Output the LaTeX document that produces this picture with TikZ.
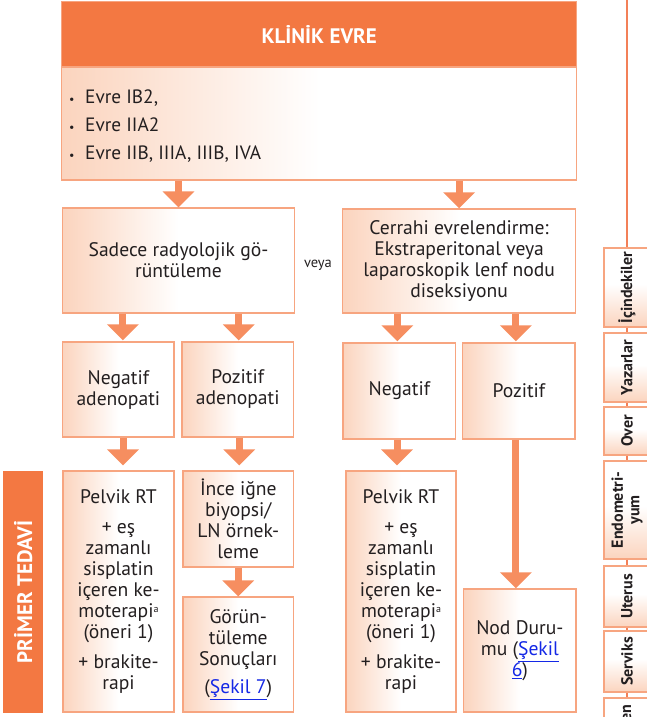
\documentclass[tikz,border=0pt]{standalone}
\usepackage{fontspec}
\setmainfont{PT Sans}
\usetikzlibrary{arrows.meta}

\definecolor{hdrorange}{RGB}{243,120,66}
\definecolor{arroworange}{RGB}{246,142,96}
\definecolor{edgeorange}{RGB}{247,165,128}
\definecolor{peach}{RGB}{251,212,190}
\definecolor{tabline}{RGB}{243,128,88}
\definecolor{linkblue}{RGB}{20,40,230}
\definecolor{ink}{RGB}{35,31,32}

% soft peach fade from the left edge of a box into white
\pgfdeclarehorizontalshading{boxfade}{100bp}{color(0bp)=(peach); color(25bp)=(peach); color(50bp)=(white); color(100bp)=(white)}
% same fade, rising from the bottom of the side tabs
\pgfdeclareverticalshading{tabfade}{100bp}{color(0bp)=(peach); color(25bp)=(peach); color(52bp)=(white); color(100bp)=(white)}

\newcommand{\lnk}[1]{\textcolor{linkblue}{\underline{#1}}}
% small footnote mark kept low so it stays clear of the line above
\newcommand{\fnmark}[1]{\raisebox{5pt}[9pt][0pt]{\fontsize{10}{10}\selectfont #1}}

\tikzset{
  box/.style={draw=edgeorange, line width=1.3pt, shading=boxfade, align=center,
    inner sep=2pt, text=ink, font=\fontsize{19.6}{21}\selectfont},
  flowarrow/.style={draw=arroworange, line width=7pt,
    -{Triangle[width=31pt,length=16pt]}},
  sidetab/.style={draw=edgeorange, line width=1.2pt, shading=tabfade, rotate=90,
    align=center, inner sep=1pt, text=ink, minimum height=46pt,
    font=\fontsize{16}{16.5}\selectfont\bfseries},
  tabconn/.style={draw=tabline, line width=1.3pt},
}

\begin{document}
\begin{tikzpicture}[x=1pt, y=-1pt]
\useasboundingbox (0,0) rectangle (647,717);
\clip (0,0) rectangle (647,717);

% ---- clinical stage header and list ----
\node[fill=hdrorange, draw=edgeorange, line width=1pt, minimum width=515pt,
  minimum height=65pt, text=white, font=\fontsize{21}{23}\selectfont\bfseries]
  (hdr) at (319.2,34.5) {KLİNİK EVRE};
\node[box, minimum width=515pt, minimum height=113pt] (lst) at (319.2,123.5) {};
\node[anchor=west, align=left, inner sep=0pt, text=ink,
  font=\fontsize{19.3}{28}\selectfont] (lsttext) at (67,126)
  {\makebox[18pt][l]{\hspace{2pt}\fontsize{12}{12}\selectfont •}Evre IB2,\\
   \makebox[18pt][l]{\hspace{2pt}\fontsize{12}{12}\selectfont •}Evre IIA2\\
   \makebox[18pt][l]{\hspace{2pt}\fontsize{12}{12}\selectfont •}Evre IIB, IIIA, IIIB, IVA};

% ---- staging method ----
\node[box, minimum width=231.6pt, minimum height=105pt] (sad) at (178.5,260.5)
  {Sadece radyolojik gö-\\rüntüleme};
\node[box, minimum width=232.8pt, minimum height=104pt] (cer) at (459.1,261)
  {Cerrahi evrelendirme:\\Ekstraperitonal veya\\laparoskopik lenf nodu\\diseksiyonu};
\node[text=ink, font=\fontsize{14.5}{16}\selectfont] (veya) at (318,265) {veya};

% ---- nodal findings ----
\node[box, minimum width=111.3pt, minimum height=95pt] (nad) at (118.35,389.5)
  {Negatif\\adenopati};
\node[box, minimum width=111.5pt, minimum height=95pt] (pad) at (237.75,389.5)
  {Pozitif\\adenopati};
\node[box, minimum width=112.7pt, minimum height=96pt] (neg) at (399.35,391)
  {Negatif};
\node[box, minimum width=112.3pt, minimum height=96pt] (poz) at (518.85,391)
  {Pozitif};

% ---- primary treatment ----
\node[box, minimum width=111pt, minimum height=241pt] (pel1) at (118.5,591.5)
  {Pelvik RT\\[9pt]+ eş\\zamanlı\\sisplatin\\içeren ke-\\moterapi\fnmark{a}\\(öneri 1)\\[9pt]+ brakite-\\rapi};
\node[box, minimum width=110.5pt, minimum height=96pt] (ince) at (238.25,519)
  {İnce iğne\\biyopsi/\\LN örnek-\\leme};
\node[box, minimum width=110.5pt, minimum height=115pt] (gor) at (238.25,654.5)
  {Görün-\\tüleme\\Sonuçları\\[7pt](\lnk{Şekil 7})};
\node[box, minimum width=110pt, minimum height=241pt] (pel2) at (401,591.5)
  {Pelvik RT\\[9pt]+ eş\\zamanlı\\sisplatin\\içeren ke-\\moterapi\fnmark{a}\\(öneri 1)\\[9pt]+ brakite-\\rapi};
\node[box, minimum width=112.3pt, minimum height=123pt] (nod) at (519.85,650.5)
  {Nod Duru-\\mu (\lnk{Şekil}\\\lnk{6})};

% side label
\node[fill=hdrorange, rotate=90, minimum width=242pt, minimum height=40pt,
  inner sep=0pt, text=white, font=\fontsize{21}{23}\selectfont\bfseries]
  (primer) at (23.3,592) {PRİMER TEDAVİ};

% ---- connectors ----
\draw[flowarrow] (lst.south -| sad) -- (sad.north);
\draw[flowarrow] (lst.south -| cer) -- (cer.north);
\draw[flowarrow] ([xshift=4.5pt]nad.north |- sad.south) -- ([xshift=4.5pt,yshift=1pt]nad.north);
\draw[flowarrow] ([xshift=1pt]pad.north |- sad.south) -- ([xshift=1pt,yshift=1pt]pad.north);
\draw[flowarrow] ([xshift=-2pt]neg.north |- cer.south) -- ([xshift=-2pt,yshift=1pt]neg.north);
\draw[flowarrow] ([xshift=-3pt]poz.north |- cer.south) -- ([xshift=-3pt,yshift=1pt]poz.north);
\draw[flowarrow, shorten >=5pt] ([xshift=4.5pt]pel1.north |- nad.south) -- ([xshift=4.5pt]pel1.north);
\draw[flowarrow, shorten >=5pt] ([xshift=1pt]ince.north |- pad.south) -- ([xshift=1pt]ince.north);
\draw[flowarrow, shorten >=5pt] ([xshift=-4pt]pel2.north |- neg.south) -- ([xshift=-4pt]pel2.north);
\draw[flowarrow] (ince.south) -- (gor.north);
\draw[flowarrow] ([xshift=-4pt]nod.north |- poz.south) -- ([xshift=-4pt]nod.north);

% ---- side tabs ----
\node[sidetab, minimum width=79pt] (t1) at (627,287.5) {İçindekiler};
\node[sidetab, minimum width=69pt] (t2) at (627,367.5) {Yazarlar};
\node[sidetab, minimum width=48pt] (t3) at (627,431) {Over};
\node[sidetab, minimum width=98pt] (t4) at (627,510) {Endometri-\\yum};
\node[sidetab, minimum width=61pt] (t5) at (627,596.5) {Uterus};
\node[sidetab, minimum width=61pt] (t6) at (627,661.5) {Serviks};
\node[sidetab, minimum width=52pt] (t7) at (627,724) {Vajen};
\coordinate (tabtop) at (627,0);
\draw[tabconn] (tabtop) -- (t1.east);
\draw[tabconn] (t1.west) -- (t2.east);
\draw[tabconn] (t2.west) -- (t3.east);
\draw[tabconn] (t3.west) -- (t4.east);
\draw[tabconn] (t4.west) -- (t5.east);
\draw[tabconn] (t5.west) -- (t6.east);
\draw[tabconn] (t6.west) -- (t7.east);
\end{tikzpicture}
\end{document}
